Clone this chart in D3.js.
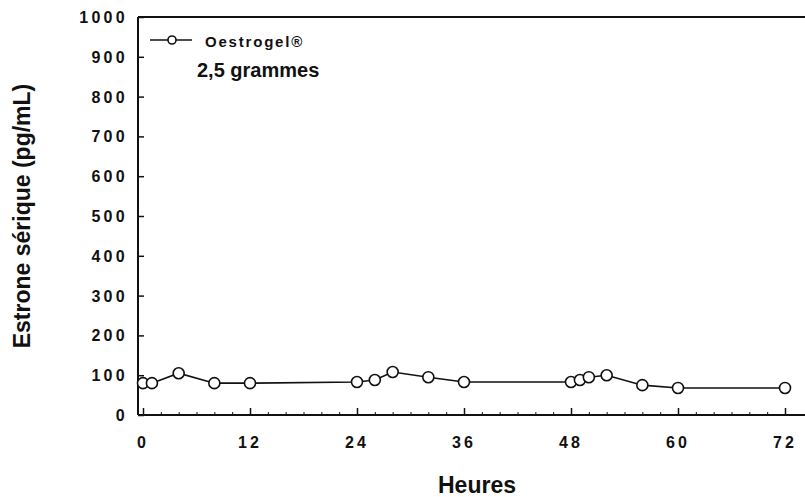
<!DOCTYPE html>
<html>
<head>
<meta charset="utf-8">
<script src="https://cdn.jsdelivr.net/npm/d3@7"></script>
<style>
  html, body { margin: 0; padding: 0; background: #fff; }
  svg { display: block; }
  text { font-family: "Liberation Sans", Arial, sans-serif; fill: #111; }
</style>
</head>
<body>
<svg id="chart" width="805" height="497"></svg>
<script>
const hours   = [0, 1, 4, 8, 12, 24, 26, 28, 32, 36, 48, 49, 50, 52, 56, 60, 72];
const estrone = [80, 80, 105, 80, 80, 83, 88, 108, 95, 83, 83, 88, 95, 100, 75, 68, 68];
const xTicks = [0, 12, 24, 36, 48, 60, 72];
const yTicks = [0, 100, 200, 300, 400, 500, 600, 700, 800, 900, 1000];
const seriesName = "Oestrogel®";
const seriesSub = "2,5 grammes";
const xTitle = "Heures";
const yTitle = "Estrone sérique (pg/mL)";

const svg = d3.select("#chart");
const x = d3.scaleLinear().domain([0, 72]).range([143, 785]);
const y = d3.scaleLinear().domain([0, 1000]).range([415, 17]);
const x0 = x.invert(138), x1 = x.invert(805);

const data = hours.map((h, i) => ({h, v: estrone[i]}));

// frame: top, left, bottom
svg.append("line").attr("x1", x(x0)).attr("x2", x(x1)).attr("y1", y(1000)).attr("y2", y(1000))
  .attr("stroke", "#111").attr("stroke-width", 2);
svg.append("line").attr("x1", x(x0)).attr("x2", x(x0)).attr("y1", y(1000)).attr("y2", y(0))
  .attr("stroke", "#111").attr("stroke-width", 2);
svg.append("line").attr("x1", x(x0)).attr("x2", x(x1)).attr("y1", y(0)).attr("y2", y(0))
  .attr("stroke", "#111").attr("stroke-width", 2);

// y axis ticks (inward)
const yAxis = d3.axisRight(y).tickValues(yTicks).tickSize(6).tickFormat("");
const gy = svg.append("g").attr("transform", `translate(${x(x0)},0)`).call(yAxis);
gy.select(".domain").remove();
gy.selectAll("line").attr("stroke", "#111").attr("stroke-width", 1.5);
svg.append("g").selectAll("text").data(yTicks).join("text")
  .attr("x", 128).attr("y", d => y(d) + 6)
  .attr("text-anchor", "end")
  .attr("font-size", 16).attr("font-weight", "bold").attr("letter-spacing", 3.3)
  .text(d => d);

// x axis ticks (inward)
const xMinor = d3.range(0, 74, 2);
const gxm = svg.append("g").attr("transform", `translate(0,${y(0)})`)
  .call(d3.axisTop(x).tickValues(xMinor).tickSize(3).tickFormat(""));
gxm.select(".domain").remove();
gxm.selectAll("line").attr("stroke", "#111").attr("stroke-width", 1);
const gx = svg.append("g").attr("transform", `translate(0,${y(0)})`)
  .call(d3.axisTop(x).tickValues(xTicks).tickSize(7).tickFormat(""));
gx.select(".domain").remove();
gx.selectAll("line").attr("stroke", "#111").attr("stroke-width", 1.5);
svg.append("g").selectAll("text").data(xTicks).join("text")
  .attr("x", d => x(d)).attr("y", 448)
  .attr("text-anchor", "middle")
  .attr("font-size", 16).attr("font-weight", "bold").attr("letter-spacing", 3)
  .text(d => d);

// series line
const line = d3.line().x(d => x(d.h)).y(d => y(d.v));
svg.append("path").datum(data).attr("d", line)
  .attr("fill", "none").attr("stroke", "#111").attr("stroke-width", 1.6);
svg.append("g").selectAll("circle").data(data).join("circle")
  .attr("cx", d => x(d.h)).attr("cy", d => y(d.v)).attr("r", 5.5)
  .attr("fill", "#fff").attr("stroke", "#111").attr("stroke-width", 1.6);

// legend
svg.append("line").attr("x1", 150).attr("x2", 192).attr("y1", 40).attr("y2", 40)
  .attr("stroke", "#111").attr("stroke-width", 1.6);
svg.append("circle").attr("cx", 172).attr("cy", 40).attr("r", 4)
  .attr("fill", "#fff").attr("stroke", "#111").attr("stroke-width", 1.6);
svg.append("text").attr("x", 205).attr("y", 47)
  .attr("font-size", 15).attr("font-weight", "bold").attr("letter-spacing", 1.8).text(seriesName);
svg.append("text").attr("x", 197).attr("y", 77)
  .attr("font-size", 20).attr("font-weight", "bold").text(seriesSub);

// axis titles
svg.append("text").attr("x", 477).attr("y", 493)
  .attr("text-anchor", "middle").attr("font-size", 23).attr("font-weight", "bold")
  .text(xTitle);
svg.append("text")
  .attr("transform", `translate(30,${216}) rotate(-90)`)
  .attr("text-anchor", "middle").attr("font-size", 23).attr("font-weight", "bold")
  .text(yTitle);
</script>
</body>
</html>
